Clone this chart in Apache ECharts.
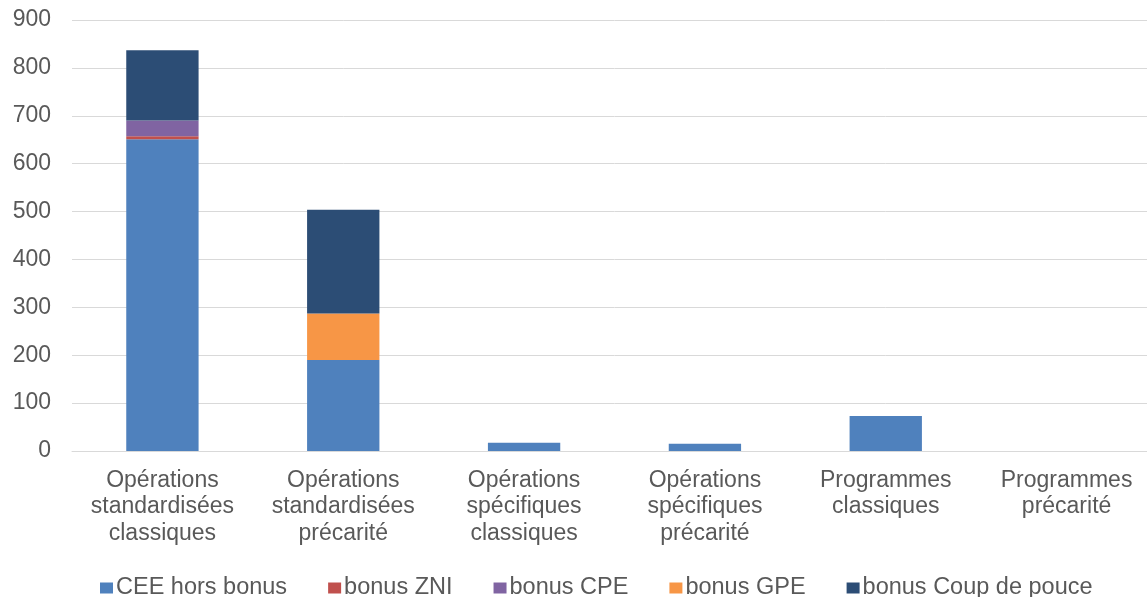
<!DOCTYPE html>
<html><head><meta charset="utf-8">
<script src="https://cdn.jsdelivr.net/npm/echarts@6/dist/echarts.min.js"></script>
<style>html,body{margin:0;padding:0;background:#fff;overflow:hidden}#c{width:1160px;height:597px}</style>
</head><body><div id="c"></div>
<script>
const categories = ["Opérations\nstandardisées\nclassiques","Opérations\nstandardisées\nprécarité","Opérations\nspécifiques\nclassiques","Opérations\nspécifiques\nprécarité","Programmes\nclassiques","Programmes\nprécarité"];
const seriesNames = ["CEE hors bonus","bonus ZNI","bonus CPE","bonus GPE","bonus Coup de pouce"];
const ceeHorsBonus = [651, 190, 17, 15, 73, 0];
const bonusZNI = [6, 0, 0, 0, 0, 0];
const bonusCPE = [33, 0, 0, 0, 0, 0];
const bonusGPE = [0, 97, 0, 0, 0, 0];
const bonusCoupDePouce = [147, 217, 0, 0, 0, 0];
const colors = ["#4f81bd","#c0504d","#8064a2","#f79646","#2c4d75"];
const allData = [ceeHorsBonus, bonusZNI, bonusCPE, bonusGPE, bonusCoupDePouce];
const chart = echarts.init(document.getElementById('c'));
chart.setOption({
  animation:false,
  textStyle:{fontFamily:'Liberation Sans, Arial, sans-serif'},
  grid:{left:72,right:3,top:20,bottom:146,containLabel:false},
  legend:{top:571,left:95,itemWidth:13,itemHeight:11,itemGap:41,icon:'rect',
    textStyle:{fontSize:23.5,color:'#595959',padding:[0,0,0,-2]},data:seriesNames},
  xAxis:{type:'category',data:categories,axisTick:{show:false},
    axisLine:{lineStyle:{color:'#d9d9d9',width:1}},
    axisLabel:{fontSize:23,color:'#595959',lineHeight:26.5,margin:16,interval:0}},
  yAxis:{type:'value',min:0,max:900,interval:100,
    axisLabel:{fontSize:23,color:'#595959',margin:21},
    splitLine:{lineStyle:{color:'#d9d9d9',width:1}}},
  series:seriesNames.map((n,i)=>({name:n,type:'bar',stack:'a',barWidth:'40%',
    data:allData[i],itemStyle:{color:colors[i]}}))
});
</script></body></html>
